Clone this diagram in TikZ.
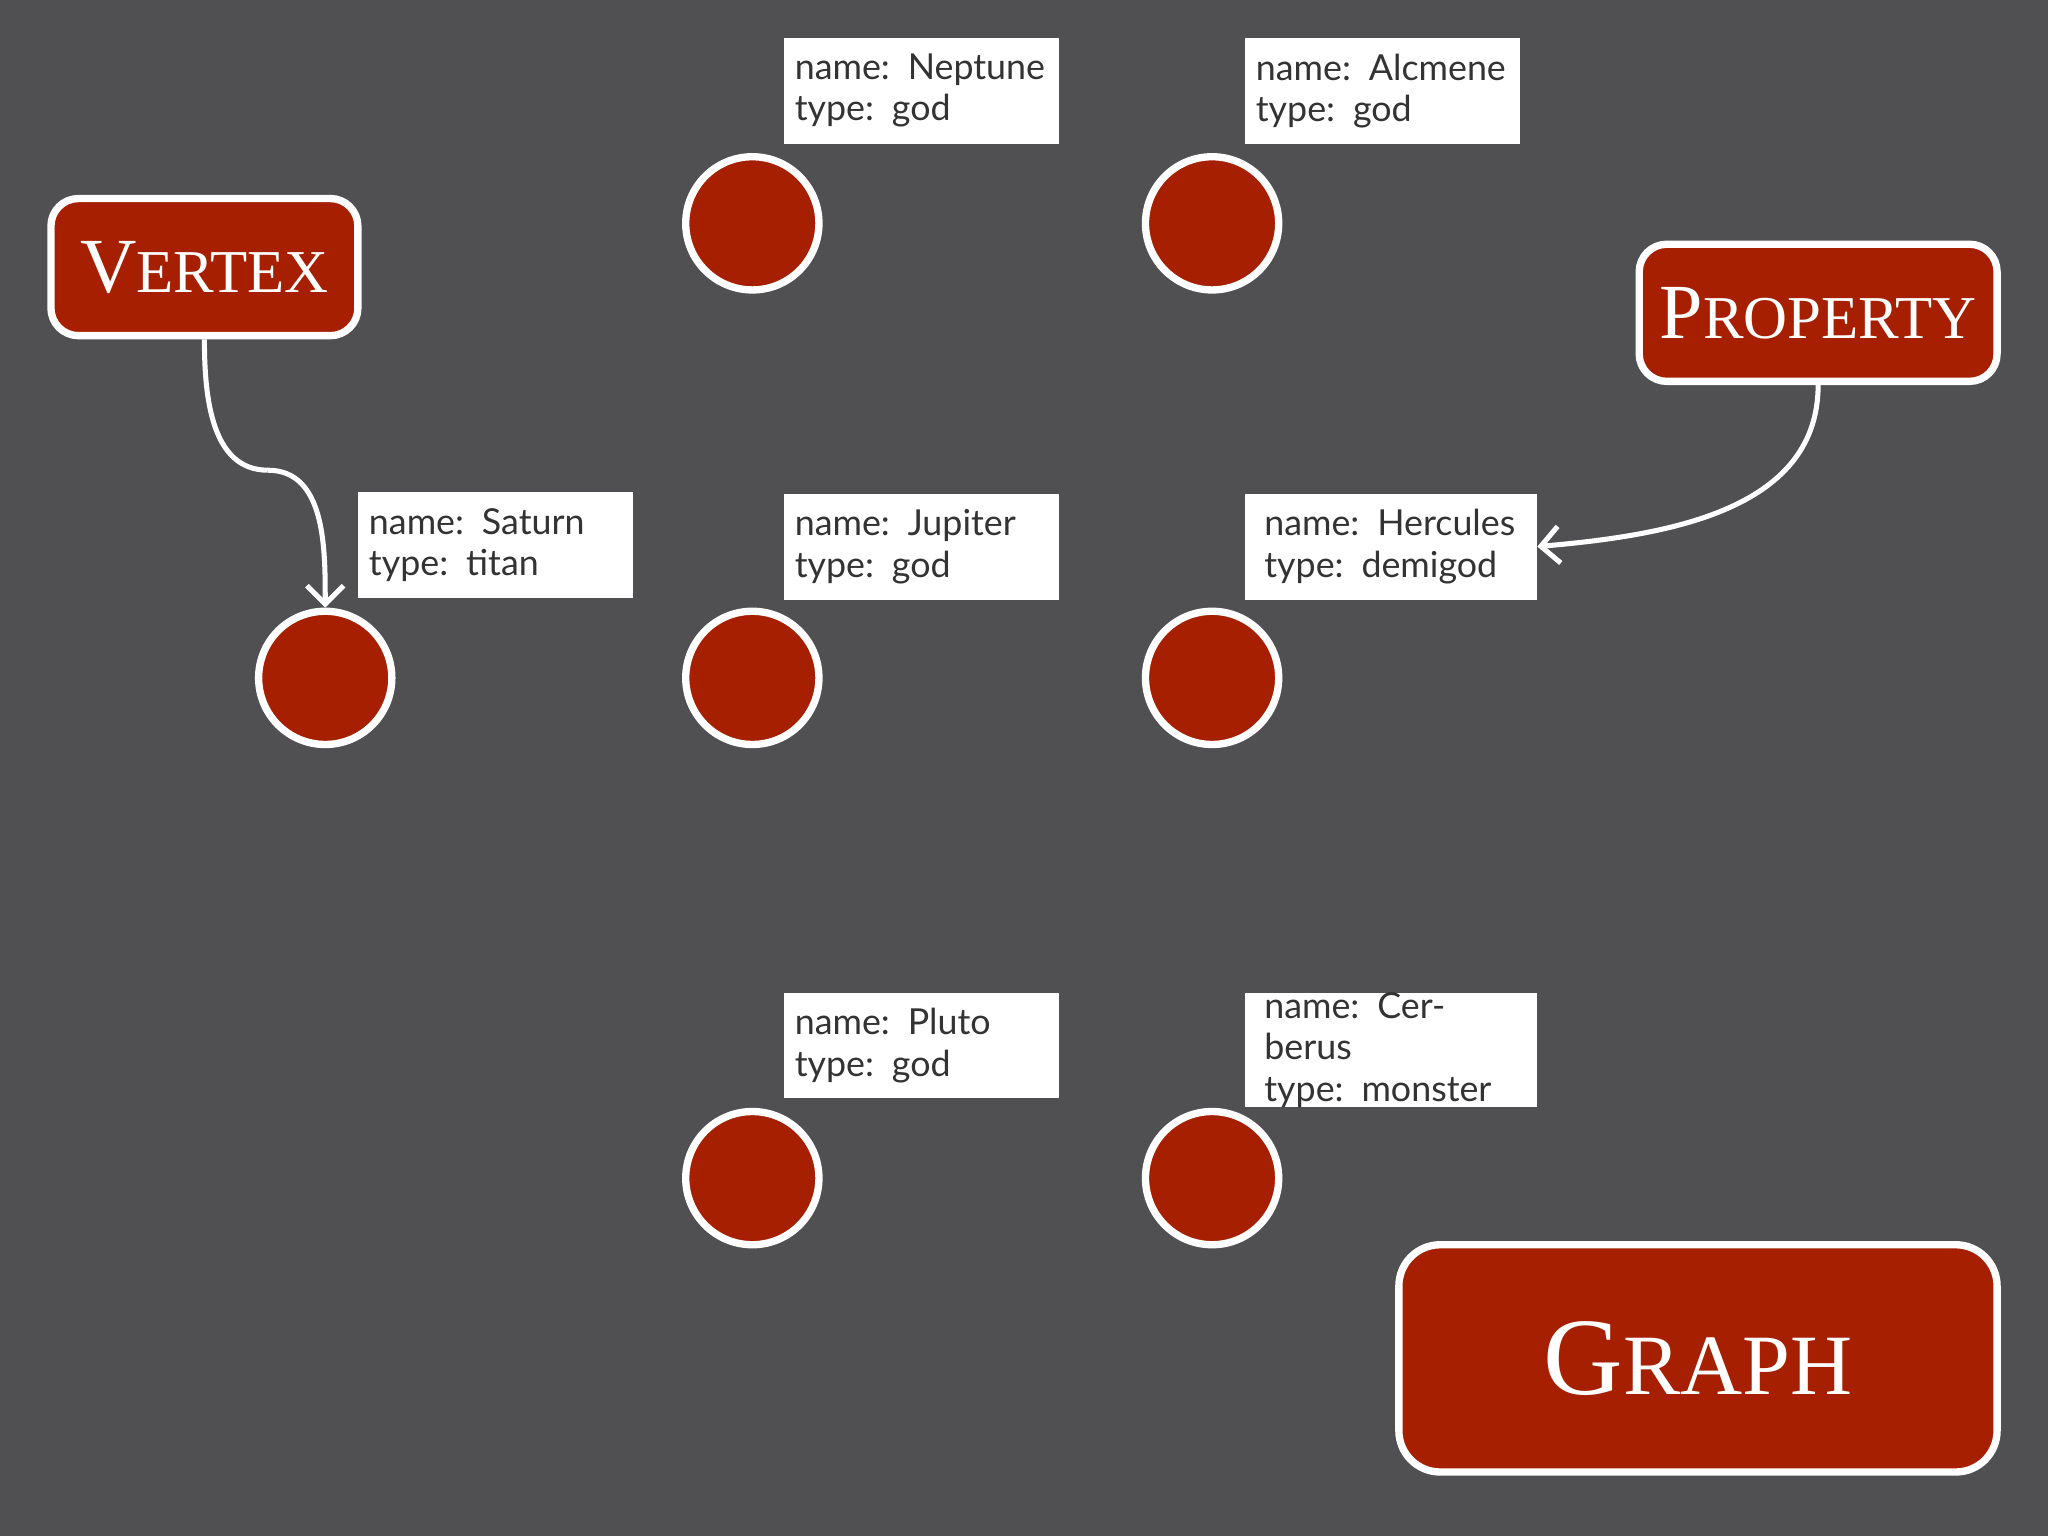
\documentclass[tikz,border=0pt]{standalone}
\usepackage{fontspec}
\setmainfont{Lato}
\newfontfamily\titlefont{Liberation Serif}
\usetikzlibrary{arrows.meta,positioning}
\definecolor{bgGray}{HTML}{505052}
\definecolor{godRed}{HTML}{A51F00}
\newcommand{\fakesc}[2]{#1{\fontsize{0.78em}{1em}\selectfont #2}}
\begin{document}
\begin{tikzpicture}[x=1cm, y=1cm,
        Vtx/.style={circle, draw=white, line width=1.6pt, fill=godRed, minimum size=1.02cm, inner sep=0pt},
        Prop/.style={fill=white, anchor=north west, minimum width=2.11cm, minimum height=0.81cm, inner sep=0pt, outer sep=0pt,
            text width=1.94cm, align=left, font=\fontsize{7.8pt}{9pt}\selectfont, text=black!80},
        Title/.style={draw=white, line width=1.6pt, fill=godRed, rounded corners=6pt, text=white, font=\titlefont},
        Link/.style={draw=white, line width=1.1pt, -{Straight Barb[length=4pt]}},
        ]
    \fill[bgGray] (0,0) rectangle (15.68,-11.76);
    \useasboundingbox (0,0) rectangle (15.68,-11.76);
    % vertices
    \node [Vtx] (neptune) at (5.76,-1.71) {};
    \node [Vtx] (alcmene) at (9.28,-1.71) {};
    \node [Vtx] (saturn) at (2.49,-5.19) {};
    \node [Vtx] (jupiter) at (5.76,-5.19) {};
    \node [Vtx] (hercules) at (9.28,-5.19) {};
    \node [Vtx] (pluto) at (5.76,-9.02) {};
    \node [Vtx] (cerberus) at (9.28,-9.02) {};
    % properties
    \node [Prop] (pNeptune) at (6.00,-0.29) {name: Neptune\\type: god};
    \node [Prop] (pAlcmene) at (9.53,-0.29) {name: Alcmene\\type: god};
    \node [Prop] (pSaturn) at (2.74,-3.77) {name: Saturn\\type: titan};
    \node [Prop] (pJupiter) at (6.00,-3.78) {name: Jupiter\\type: god};
    \node [Prop, minimum width=2.24cm] (pHercules) at (9.53,-3.78) {name: Hercules\\type: demigod};
    \node [Prop] (pPluto) at (6.00,-7.60) {name: Pluto\\type: god};
    \node [Prop, minimum width=2.24cm] (pCerberus) at (9.53,-7.60) {name: Cerberus\\type: monster};
    % titles
    \node [Title, minimum width=2.35cm, minimum height=1.05cm, font=\titlefont\fontsize{17pt}{20pt}\selectfont] (vertex) at (1.565,-2.045) {\fakesc{V}{ERTEX}};
    \node [Title, minimum width=2.74cm, minimum height=1.05cm, font=\titlefont\fontsize{17pt}{20pt}\selectfont] (property) at (13.92,-2.395) {\fakesc{P}{ROPERTY}};
    \node [Title, minimum width=4.58cm, minimum height=1.74cm, rounded corners=9pt, font=\titlefont\fontsize{24pt}{28pt}\selectfont] (graph) at (13.00,-10.40) {\fakesc{G}{RAPH}};
    % links
    \coordinate (bend) at (2.05,-3.60);
    \draw [Link, -] (vertex.south) to [out=-90, in=180] (bend);
    \draw [Link] (bend) to [out=0, in=90] (saturn.north);
    \draw [Link] (property.south) to [out=-90, in=5] (pHercules.east);
\end{tikzpicture}
\end{document}
